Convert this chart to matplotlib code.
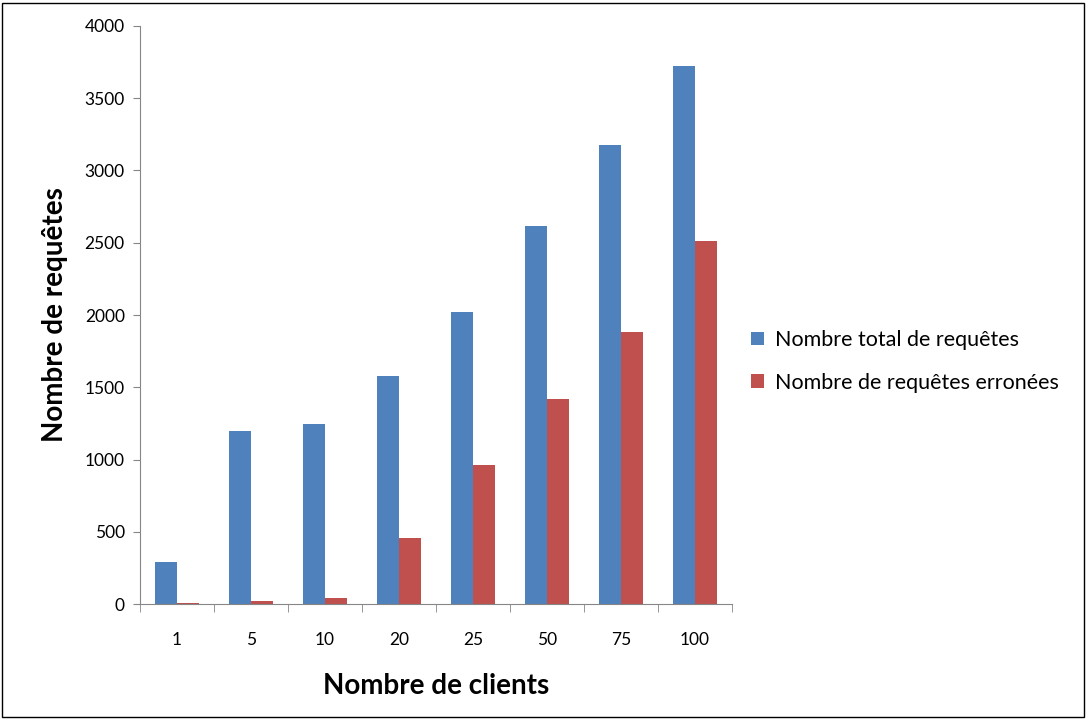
import numpy as np
import matplotlib.pyplot as plt
from matplotlib.patches import Rectangle

plt.rcParams['font.family'] = ['Lato', 'DejaVu Sans']

clients = ['1', '5', '10', '20', '25', '50', '75', '100']
total_requetes = [290, 1200, 1245, 1575, 2020, 2615, 3175, 3720]
requetes_erronees = [10, 20, 45, 455, 960, 1420, 1880, 2510]

fig = plt.figure(figsize=(10.88, 7.2), dpi=100)
ax = fig.add_axes([0.1287, 0.1611, 0.544, 0.8028])

x = np.arange(len(clients))
w = 0.3
ax.bar(x - w / 2, total_requetes, w, color='#4F81BD', label='Nombre total de requêtes')
ax.bar(x + w / 2, requetes_erronees, w, color='#C0504D', label='Nombre de requêtes erronées')

ax.set_xlim(-0.5, len(clients) - 0.5)
ax.set_ylim(0, 4000)
ax.set_yticks(np.arange(0, 4001, 500))
ax.set_xticks(x)
ax.set_xticklabels(clients)
ax.set_xticks(np.arange(-0.5, len(clients)), minor=True)
ax.tick_params(axis='x', which='major', length=0, pad=20, labelsize=12.5)
ax.tick_params(axis='x', which='minor', length=6, color='#868686')
ax.tick_params(axis='y', length=5, color='#868686', labelsize=12.5, pad=6)

for s in ['top', 'right']:
    ax.spines[s].set_visible(False)
for s in ['left', 'bottom']:
    ax.spines[s].set_color('#868686')

ax.set_xlabel('Nombre de clients', fontsize=20, fontweight='bold', labelpad=18)
ax.set_ylabel('Nombre de requêtes', fontsize=20, fontweight='bold', labelpad=12)

ax.legend(loc='center left', bbox_to_anchor=(1.0, 0.42), frameon=False,
          fontsize=15.5, handlelength=0.6, handleheight=0.6, labelspacing=1.05,
          handletextpad=0.5, borderaxespad=0.5)

fig.patches.append(Rectangle((0.002, 0.004), 0.994, 0.992, transform=fig.transFigure,
                             fill=False, edgecolor='black', linewidth=1))

fig.savefig('out.png', dpi=100)
